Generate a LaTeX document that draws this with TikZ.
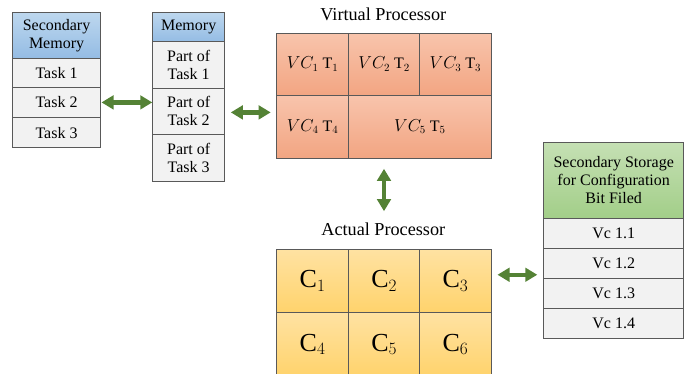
\documentclass[tikz,border=0pt]{standalone}
\usepackage{fontspec}
\setmainfont{Liberation Serif}
\usetikzlibrary{arrows.meta}
\definecolor{bordergray}{HTML}{595959}
\definecolor{rowgray}{HTML}{F2F2F2}
\definecolor{bluetop}{HTML}{BDD7EE}
\definecolor{bluebot}{HTML}{94BCE4}
\definecolor{greentop}{HTML}{C5E0B4}
\definecolor{greenbot}{HTML}{A2CE88}
\definecolor{salmontop}{HTML}{F8C4AC}
\definecolor{salmonbot}{HTML}{F2A582}
\definecolor{goldtop}{HTML}{FFE2A2}
\definecolor{goldbot}{HTML}{FFD36C}
\definecolor{arrowgreen}{HTML}{548235}
\tikzset{
  cell/.style={draw=bordergray, line width=0.8pt, inner sep=0pt, anchor=north west,
    align=center, font=\fontsize{16}{18}\selectfont},
  grayrow/.style={cell, fill=rowgray},
  bluehead/.style={cell, top color=bluetop, bottom color=bluebot},
  greenhead/.style={cell, top color=greentop, bottom color=greenbot},
  vcell/.style={cell, top color=salmontop, bottom color=salmonbot},
  acell/.style={cell, top color=goldtop, bottom color=goldbot, font=\fontsize{26}{30}\selectfont},
  title/.style={font=\fontsize{18.2}{21}\selectfont, inner sep=0pt},
  dbl/.style={line width=4.5pt, draw=arrowgreen,
    {Triangle[length=12pt,width=13.5pt,fill=arrowgreen]}-{Triangle[length=12pt,width=13.5pt,fill=arrowgreen]}}
}
\begin{document}
\begin{tikzpicture}[x=1pt,y=-1pt]
\useasboundingbox (0,0) rectangle (688,373);
\clip (0,0) rectangle (688,373);
% Secondary Memory
\node[bluehead, minimum width=87.7pt, minimum height=45.4pt] (smh) at (12.3,12.3) {Secondary\\Memory};
\node[grayrow, minimum width=87.7pt, minimum height=29pt] (sm1) at (12.3,57.7) {Task 1};
\node[grayrow, minimum width=87.7pt, minimum height=30.6pt] (sm2) at (12.3,86.7) {Task 2};
\node[grayrow, minimum width=87.7pt, minimum height=30pt] (sm3) at (12.3,117.3) {Task 3};
% Memory
\node[bluehead, minimum width=72pt, minimum height=29pt] (mh) at (152.3,12.3) {Memory};
\node[grayrow, minimum width=72pt, minimum height=46.4pt] (m1) at (152.3,41.3) {Part of\\Task 1};
\node[grayrow, minimum width=72pt, minimum height=46.6pt] (m2) at (152.3,87.7) {Part of\\Task 2};
\node[grayrow, minimum width=72pt, minimum height=46.4pt] (m3) at (152.3,134.3) {Part of\\Task 3};
% Virtual Processor
\node[title] (vpt) at (383.3,14) {Virtual Processor};
\node[vcell, minimum width=72.3pt, minimum height=62.3pt] (vp1) at (276,32.7) {$VC_1\ \mathrm{T}_1$};
\node[vcell, minimum width=71pt, minimum height=62.3pt] (vp2) at (348.3,32.7) {$VC_2\ \mathrm{T}_2$};
\node[vcell, minimum width=71.4pt, minimum height=62.3pt] (vp3) at (419.3,32.7) {$VC_3\ \mathrm{T}_3$};
\node[vcell, minimum width=72.3pt, minimum height=62.7pt] (vp4) at (276,95) {$VC_4\ \mathrm{T}_4$};
\node[vcell, minimum width=142.4pt, minimum height=62.7pt] (vp5) at (348.3,95) {$VC_5\ \mathrm{T}_5$};
% Actual Processor
\node[title] (apt) at (383.3,229.3) {Actual Processor};
\node[acell, minimum width=72.3pt, minimum height=63.3pt] (ap1) at (276,249) {C$_1$};
\node[acell, minimum width=71pt, minimum height=63.3pt] (ap2) at (348.3,249) {C$_2$};
\node[acell, minimum width=71.4pt, minimum height=63.3pt] (ap3) at (419.3,249) {C$_3$};
\node[acell, minimum width=72.3pt, minimum height=63.3pt] (ap4) at (276,312.3) {C$_4$};
\node[acell, minimum width=71pt, minimum height=63.3pt] (ap5) at (348.3,312.3) {C$_5$};
\node[acell, minimum width=71.4pt, minimum height=63.3pt] (ap6) at (419.3,312.3) {C$_6$};
% Secondary Storage
\node[greenhead, minimum width=140pt, minimum height=76.6pt] (ssh) at (543.3,141.7) {Secondary Storage\\for Configuration\\Bit Filed};
\node[grayrow, minimum width=140pt, minimum height=30pt] (ss1) at (543.3,218.3) {Vc 1.1};
\node[grayrow, minimum width=140pt, minimum height=30pt] (ss2) at (543.3,248.3) {Vc 1.2};
\node[grayrow, minimum width=140pt, minimum height=30pt] (ss3) at (543.3,278.3) {Vc 1.3};
\node[grayrow, minimum width=140pt, minimum height=30pt] (ss4) at (543.3,308.3) {Vc 1.4};
% Arrows
\draw[dbl, shorten <=0.7pt] (sm2.east) -- (sm2.east -| m2.west);
\draw[dbl, shorten <=5.7pt, shorten >=5.3pt] ([yshift=-1pt]m2.east) -- ([yshift=-1pt]m2.east -| vp4.west);
\draw[dbl, shorten <=10.3pt, shorten >=11.5pt] ([xshift=0.7pt]vp4.south -| apt.north) -- ([xshift=0.7pt]apt.north);
\draw[dbl, shorten <=6pt, shorten >=6pt] ([yshift=6.3pt]ap3.east) -- ([yshift=6.3pt]ap3.east -| ss2.west);
\end{tikzpicture}
\end{document}
